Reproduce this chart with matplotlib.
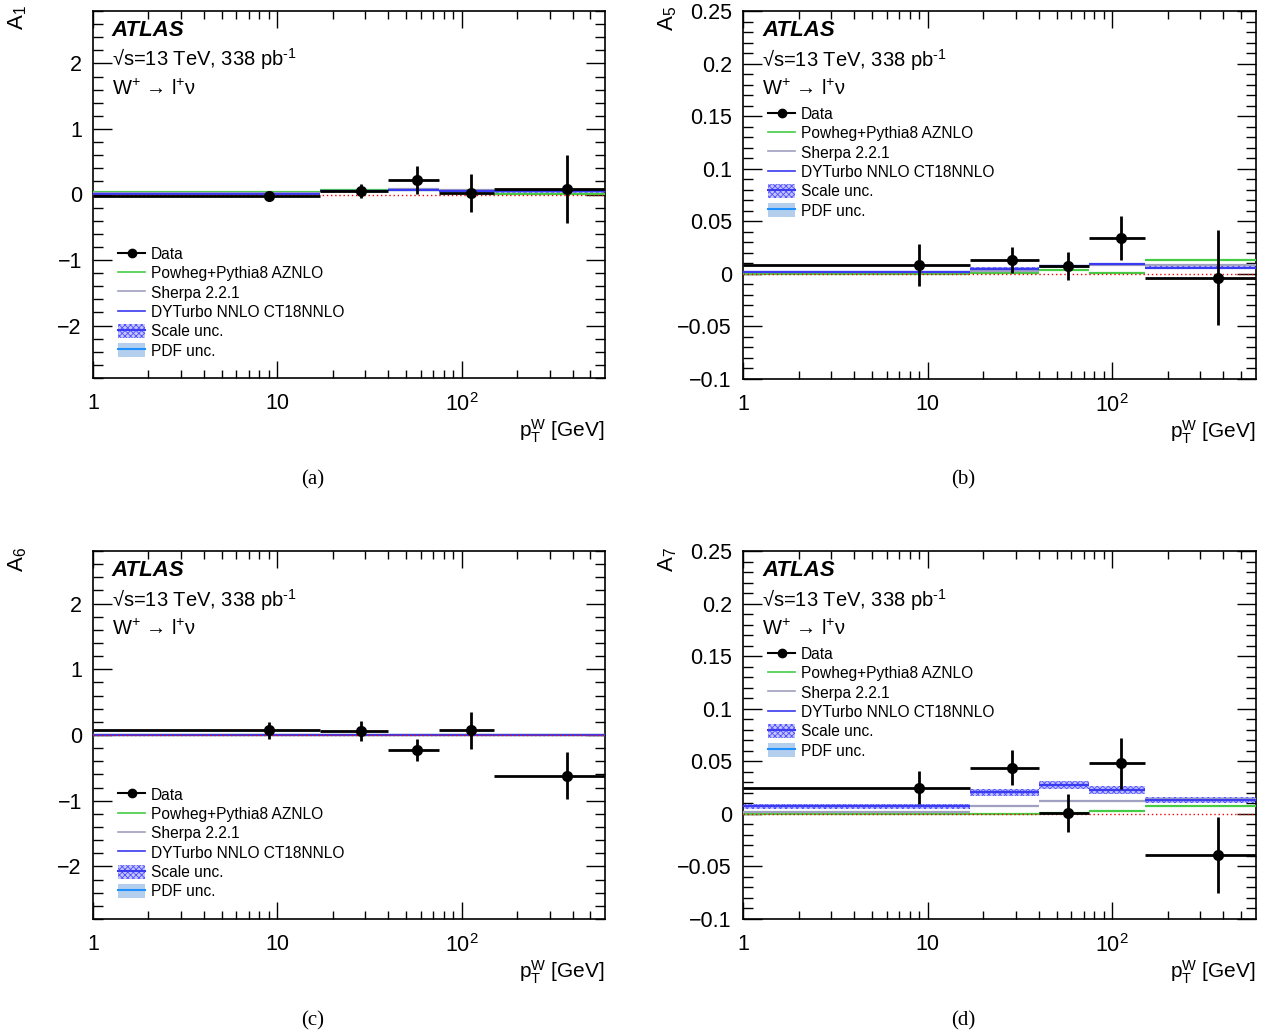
import numpy as np
import matplotlib
matplotlib.use("Agg")
import matplotlib.pyplot as plt
from matplotlib.lines import Line2D
from matplotlib.patches import Patch
from matplotlib.ticker import FixedLocator, FixedFormatter, MultipleLocator, NullFormatter, FuncFormatter

plt.rcParams['font.family'] = ['Liberation Sans', 'DejaVu Sans']
plt.rcParams['mathtext.fontset'] = 'custom'
plt.rcParams['mathtext.rm'] = 'Liberation Sans'
plt.rcParams['mathtext.it'] = 'Liberation Sans:italic'
plt.rcParams['mathtext.bf'] = 'Liberation Sans:bold'
plt.rcParams['hatch.linewidth'] = 0.6

# binning in pT(W)
edges = [1, 17, 40, 75, 150, 600]
x_data = [9, 28.5, 57.5, 112, 375]

# A1
a1_data = [-0.02, 0.05, 0.22, 0.03, 0.08]
a1_err = [0.04, 0.11, 0.21, 0.29, 0.52]
a1_powheg = [0.035, 0.075, 0.065, 0.06, 0.01]
a1_sherpa = [0.02, 0.06, 0.085, 0.065, 0.05]
a1_dyturbo = [0.015, 0.055, 0.075, 0.055, 0.05]
a1_scale = [0.012, 0.012, 0.015, 0.015, 0.02]
a1_pdf = [0.005, 0.005, 0.005, 0.005, 0.005]

# A5
a5_data = [0.008, 0.013, 0.0075, 0.034, -0.0035]
a5_err = [0.02, 0.0125, 0.0135, 0.021, 0.045]
a5_powheg = [0.0, 0.001, 0.004, 0.0006, 0.0133]
a5_sherpa = [0.0015, 0.003, 0.0075, 0.0085, 0.008]
a5_dyturbo = [0.0015, 0.0047, 0.007, 0.009, 0.006]
a5_scale = [0.001, 0.0015, 0.0015, 0.0015, 0.0015]
a5_pdf = [0.0005, 0.0005, 0.0005, 0.0005, 0.0005]

# A6
a6_data = [0.07, 0.056, -0.227, 0.071, -0.62]
a6_err = [0.125, 0.15, 0.17, 0.28, 0.36]
a6_powheg = [0.004, 0.003, 0.002, 0.002, 0.001]
a6_sherpa = [0.003, 0.002, 0.002, 0.001, 0.001]
a6_dyturbo = [0.002, 0.002, 0.001, 0.001, 0.001]
a6_scale = [0.005, 0.005, 0.005, 0.005, 0.005]
a6_pdf = [0.003, 0.003, 0.003, 0.003, 0.003]

# A7
a7_data = [0.025, 0.044, 0.001, 0.048, -0.039]
a7_err = [0.016, 0.017, 0.018, 0.024, 0.036]
a7_powheg = [0.0, 0.0, 0.0007, 0.0028, 0.0079]
a7_sherpa = [0.002, 0.007, 0.0127, 0.012, 0.0145]
a7_dyturbo = [0.007, 0.0206, 0.027, 0.0228, 0.0133]
a7_scale = [0.002, 0.0035, 0.0038, 0.0035, 0.003]
a7_pdf = [0.0008, 0.0008, 0.0008, 0.0008, 0.0008]

c_powheg = '#44cc44'
c_sherpa = '#a0a0c0'
c_dyturbo = '#3a3af0'
c_scale_face = '#c4c4ff'
c_pdf_face = '#b4cfee'
c_pdf_line = '#1e90ff'

W, H = 1266, 1035
fig = plt.figure(figsize=(W / 100, H / 100), dpi=100)


def px_axes(l, t, r, b):
    return fig.add_axes([l / W, 1 - b / H, (r - l) / W, (b - t) / H])


def draw_panel(ax, data, err, powheg, sherpa, dyturbo, scale, pdf, ylim, ymaj, ymin, ylab, lab_xy,
               leg_y, yfmt):
    lo = edges[:-1]
    hi = edges[1:]
    ax.axhline(0, color='red', lw=1.0, ls=(0, (1, 2)), zorder=4)
    for i in range(5):
        ax.fill_between([lo[i], hi[i]], dyturbo[i] - pdf[i], dyturbo[i] + pdf[i],
                        facecolor=c_pdf_face, edgecolor='none', zorder=2)
        ax.fill_between([lo[i], hi[i]], dyturbo[i] - scale[i], dyturbo[i] + scale[i],
                        facecolor=c_scale_face, edgecolor='#5050ff', hatch='xxxxxx', lw=0, zorder=2)
    ax.hlines(powheg, lo, hi, color=c_powheg, lw=1.6, zorder=3)
    ax.hlines(sherpa, lo, hi, color=c_sherpa, lw=1.6, zorder=3)
    ax.hlines(dyturbo, lo, hi, color=c_dyturbo, lw=1.6, zorder=3)
    xerr = [np.array(x_data) - np.array(lo), np.array(hi) - np.array(x_data)]
    ax.errorbar(x_data, data, yerr=err, xerr=xerr, fmt='o', color='black', ms=7,
                elinewidth=2, capsize=0, zorder=5)

    ax.set_xscale('log')
    ax.set_xlim(1, 600)
    ax.set_ylim(*ylim)
    ax.xaxis.set_major_locator(FixedLocator([1, 10, 100]))
    ax.xaxis.set_major_formatter(FixedFormatter(['1', '10', '$10^{2}$']))
    minors = [m * d for d in [1, 10, 100] for m in range(2, 10) if m * d < 600]
    ax.xaxis.set_minor_locator(FixedLocator(minors))
    ax.xaxis.set_minor_formatter(NullFormatter())
    ax.yaxis.set_major_locator(MultipleLocator(ymaj))
    ax.yaxis.set_minor_locator(MultipleLocator(ymin))
    ax.yaxis.set_major_formatter(yfmt)
    ax.tick_params(which='both', direction='in', top=True, right=True, labelsize=15.5, width=1)
    ax.tick_params(axis='x', which='major', length=12, pad=11)
    ax.tick_params(axis='x', which='minor', length=6)
    ax.tick_params(axis='y', which='major', length=14, pad=8)
    ax.tick_params(axis='y', which='minor', length=7)
    for s in ax.spines.values():
        s.set_linewidth(1.2)

    ax.text(0.037, 0.948, 'ATLAS', transform=ax.transAxes, fontsize=16, fontweight='bold',
            style='italic', va='center', ha='left')
    ax.text(0.037, 0.868, '√s=13 TeV, 338 pb$^{\u20101}$', transform=ax.transAxes, fontsize=14.5,
            va='center', ha='left')
    ax.text(0.037, 0.788, 'W$^{+}$ → l$^{+}$ν', transform=ax.transAxes, fontsize=14.5,
            va='center', ha='left')
    ax.text(1.0, -0.145, r'$\mathrm{p}_{\mathrm{T}}^{\mathrm{W}}$ [GeV]', transform=ax.transAxes,
            fontsize=15, ha='right', va='center')
    fig.text(lab_xy[0] / W, 1 - lab_xy[1] / H, ylab, rotation=90, fontsize=16, ha='center', va='center')

    handles = [
        Line2D([], [], color='black', marker='o', ms=6, lw=1.5),
        Line2D([], [], color=c_powheg, lw=1.2),
        Line2D([], [], color=c_sherpa, lw=1.2),
        Line2D([], [], color=c_dyturbo, lw=1.2),
        (Patch(facecolor=c_scale_face, edgecolor='#5050ff', hatch='xxxxxx', lw=0),
         Line2D([], [], color=c_dyturbo, lw=1.5)),
        (Patch(facecolor=c_pdf_face, edgecolor='none'), Line2D([], [], color=c_pdf_line, lw=1.5)),
    ]
    labels = ['Data', 'Powheg+Pythia8 AZNLO', 'Sherpa 2.2.1', 'DYTurbo NNLO CT18NNLO',
              'Scale unc.', 'PDF unc.']
    ax.legend(handles, labels, loc='upper left', bbox_to_anchor=(0.049, leg_y), frameon=False,
              fontsize=11.2, handlelength=1.75, handletextpad=0.35, labelspacing=0.26,
              borderpad=0, borderaxespad=0, handleheight=1.0)


def fmt_int(v, pos):
    return '0' if abs(v) < 1e-9 else '%d' % round(v)


def fmt_small(v, pos):
    if abs(v) < 1e-9:
        return '0'
    return ('%.2f' % v).rstrip('0').rstrip('.')


fi = FuncFormatter(lambda v, p: fmt_int(v, p).replace('-', '\u2212'))
fs = FuncFormatter(lambda v, p: fmt_small(v, p).replace('-', '\u2212'))

ax_a = px_axes(93, 11, 605, 378)
draw_panel(ax_a, a1_data, a1_err, a1_powheg, a1_sherpa, a1_dyturbo, a1_scale, a1_pdf,
           (-2.8, 2.8), 1, 0.2, 'A$_{1}$', (18, 18), 0.358, fi)
ax_b = px_axes(743, 11, 1256, 379)
draw_panel(ax_b, a5_data, a5_err, a5_powheg, a5_sherpa, a5_dyturbo, a5_scale, a5_pdf,
           (-0.1, 0.25), 0.05, 0.01, 'A$_{5}$', (668, 18), 0.740, fs)
ax_c = px_axes(93, 551, 605, 919)
draw_panel(ax_c, a6_data, a6_err, a6_powheg, a6_sherpa, a6_dyturbo, a6_scale, a6_pdf,
           (-2.8, 2.8), 1, 0.2, 'A$_{6}$', (18, 560), 0.358, fi)
ax_d = px_axes(743, 551, 1256, 919)
draw_panel(ax_d, a7_data, a7_err, a7_powheg, a7_sherpa, a7_dyturbo, a7_scale, a7_pdf,
           (-0.1, 0.25), 0.05, 0.01, 'A$_{7}$', (668, 560), 0.740, fs)

for lab, (x, y) in zip(['(a)', '(b)', '(c)', '(d)'], [(313, 480), (963, 480), (313, 1021), (963, 1021)]):
    fig.text(x / W, 1 - y / H, lab, fontsize=15, family='Liberation Serif', ha='center', va='center')

fig.savefig('out.png', dpi=100)
